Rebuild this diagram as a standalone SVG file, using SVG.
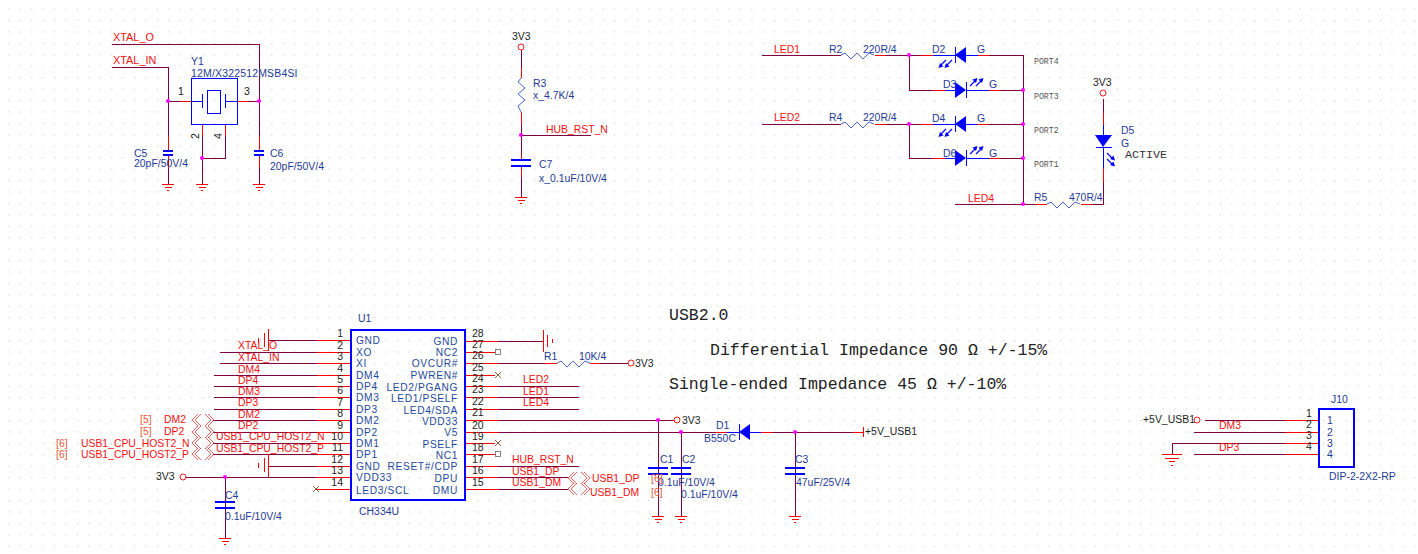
<svg xmlns="http://www.w3.org/2000/svg" width="1418" height="554" viewBox="0 0 1418 554">
<style>
.w,.r,.b{fill:none;stroke-width:1;shape-rendering:crispEdges}
.w{stroke:#800040}.r{stroke:#f00}.b{stroke:#00f}
.bt{fill:none;stroke:#00f;stroke-width:1.2;shape-rendering:crispEdges}
.z{fill:none;stroke:#1a3cc0;stroke-width:.8}
.j{fill:#f0f}
.o{fill:#fff;stroke:#e00;stroke-width:.9}
.x{stroke:#6a3a10;stroke-width:.8;fill:none}
.nc{fill:#fff;stroke:#777;stroke-width:.9}
.ch{fill:none;stroke:#e82020;stroke-width:.7}
.df{fill:#00f;stroke:none}
text{font-family:"Liberation Sans",Arial,sans-serif;font-size:10.45px;fill:#1f3a96}
.n{fill:#f41010;font-size:10.4px}
.nw{font-size:10.9px}
.k{fill:#222}
.p{fill:#e85a3c;font-size:10.4px}
.num{fill:#222;font-size:10.5px}
.pn{font-size:10.2px;letter-spacing:.65px;fill:#1f4a9c}
.e{text-anchor:end}
.m{font-family:"Liberation Mono","Courier New",monospace;fill:#333}
.pt{font-size:8.2px;fill:#555}
.note{font-size:16.55px;fill:#222}
</style>
<defs>
<pattern id="grid" width="11.43" height="11.43" patternUnits="userSpaceOnUse" x="8.4" y="8.5"><circle cx=".6" cy=".6" r=".55" fill="#bdbdbd"/></pattern>
<g id="gnd" class="r"><path d="M-6 0H6M-3.5 3H3.5M-1 6H1"/></g>
<g id="gndb" class="r"><path d="M-10 0H10M-7 4H7M-3 7H3M-1 11H1"/></g>
<polyline id="res" class="z" points="0,0 4,-2 10,4 16,-2 22,4 28,-2 33,0"/>
<g id="chev" class="ch"><path d="M6-6L0 0L6 6M9-6L3 0L9 6M16-6L22 0L16 6M13-6L19 0L13 6"/></g>
<g id="ledarr"><path d="M0 8L5 3M6 8L11 3" fill="none" stroke="#00f" stroke-width="1.2"/><path class="df" d="M7.500 0L2.500 1.500L6 5ZM13.500 0L8.500 1.500L12 5Z"/></g>
<path id="xm" class="x" d="M-3-3L3 3M-3 3L3-3"/>
</defs>
<rect width="1418" height="554" fill="#fff"/>
<rect width="1418" height="554" fill="url(#grid)"/>

<g id="connectors">
<path class="w" d="M112 44H259V136M259 155V184M112 67H168V136M168 155V184M168 101H180M248 101H259M202 136V184M225 136V158H202M521 50V68M521 125V155M521 135H591M521 178V197"/>
<path class="r" d="M180 101H191M237 101H248M202 124V136M225 124V136M168 136V151M168 155V168M259 136V151M259 155V168M521 68V78M521 112V125M521 155V160M521 166V178"/>
<path class="w" d="M762 55H841M886 55H921M909 55V90H933M978 55H1023M978 90H1023M762 124H841M886 124H921M909 124V158H933M988 124H1023M1000 158H1023M1023 55V204M955 204H1035M1091 204H1103V182M1103 113V99"/>
<path class="r" d="M875 55H886M921 55H933M933 90H945M989 90H1000M875 124H886M921 124H933M933 158H945M977 124H988M989 158H1000M978 55H989M1035 204H1041M1081 204H1091M1103 182V168M1103 125V113"/>
<path class="r" d="M317 340H351M317 352H351M317 363H351M317 375H351M317 386H351M317 397H351M317 409H351M317 420H351M317 432H351M317 443H351M317 454H351M317 466H351M317 477H351M317 489H351M465 341H498M465 352H495M465 363H498M465 375H495M465 386H498M465 397H498M465 409H498M465 420H498M465 432H498M465 443H495M465 454H495M465 466H498M465 477H498M465 489H498M545 363H557M590 363H600M673 420H675M716 432H727M761 432H772M853 432H863M1286 420H1319M1286 432H1319M1286 443H1319M1286 454H1319"/>
<path class="w" d="M268 340H317M220 352H317M220 363H317M214 375H317M214 386H317M214 397H317M214 409H317M213 420H317M213 432H317M213 443H317M213 454H317M268 466H317M186 477H317M316 489H317"/>
<path class="w" d="M498 341H543M498 363H545M600 363H628M498 386H579M498 397H579M498 409H579M498 420H673M498 432H716M772 432H853M498 466H579M498 477H568M498 489H568M658 420V516M681 432V516M795 432V516M225 477V538M1205 420H1286M1194 432H1286M1172 443H1286M1172 443V454M1194 454H1286"/>
</g>

<g id="grounds">
<use href="#gnd" x="168" y="184"/><use href="#gnd" x="202" y="184"/><use href="#gnd" x="259" y="184"/><use href="#gnd" x="521" y="197"/><use href="#gnd" x="225" y="538"/><use href="#gnd" x="658" y="516"/><use href="#gnd" x="681" y="516"/><use href="#gnd" x="795" y="516"/><use href="#gndb" x="1172" y="454"/>
<path class="r" d="M543 330V352M547 335V347M552 339V343M268 329V351M264 333V347M258 338V343M268 454V477M264 458V472M258 463V468"/>
</g>

<g id="junctions">
<circle class="j" cx="168" cy="101" r="2"/><circle class="j" cx="259" cy="101" r="2"/><circle class="j" cx="202" cy="158" r="2"/><circle class="j" cx="521" cy="135" r="2"/><circle class="j" cx="909" cy="55" r="2"/><circle class="j" cx="909" cy="124" r="2"/><circle class="j" cx="1023" cy="90" r="2"/><circle class="j" cx="1023" cy="124" r="2"/><circle class="j" cx="1023" cy="158" r="2"/><circle class="j" cx="1023" cy="204" r="2"/><circle class="j" cx="658" cy="420" r="2"/><circle class="j" cx="681" cy="432" r="2"/><circle class="j" cx="795" cy="432" r="2"/><circle class="j" cx="225" cy="477" r="2"/>
</g>

<g id="Y1">
<path class="b" d="M191 78H237V124H191ZM191 101H202M202 94V108M225 94V108M225 101H237M207 90H220V113H207Z"/>
<text x="191" y="65">Y1</text><text x="191" y="77" style="letter-spacing:.2px">12M/X322512MSB4SI</text>
<text class="num" x="178" y="95">1</text><text class="num" x="244" y="95">3</text>
<text class="num" transform="translate(199,139) rotate(-90)">2</text><text class="num" transform="translate(222,139) rotate(-90)">4</text>
</g>
<g id="C5"><path class="bt" d="M163 151H173M163 155H173"/><text x="134" y="157">C5</text><text x="134" y="167">20pF/50V/4</text></g>
<g id="C6"><path class="bt" d="M254 151H264M254 155H264"/><text x="270" y="157">C6</text><text x="270" y="170">20pF/50V/4</text></g>
<g id="nets-xtal"><text class="n nw" x="113" y="41">XTAL_O</text><text class="n nw" x="113" y="64">XTAL_IN</text></g>

<g id="R3-C7">
<circle class="o" cx="521" cy="47" r="3"/><text class="k" x="512" y="40">3V3</text>
<polyline class="z" points="521,78 518,82 525,88 518,94 525,100 518,106 521,112"/>
<text x="533" y="87">R3</text><text x="533" y="99">x_4.7K/4</text>
<text class="n" x="546" y="133">HUB_RST_N</text>
<path class="bt" d="M511 160H531M511 166H531"/>
<text x="539" y="168">C7</text><text x="539" y="182">x_0.1uF/10V/4</text>
</g>

<g id="R2"><use href="#res" x="841" y="55"/><text x="829" y="53">R2</text><text x="863" y="53">220R/4</text><text class="n" x="774" y="53">LED1</text></g>
<g id="R4"><use href="#res" x="841" y="124"/><text x="829" y="121">R4</text><text x="863" y="121">220R/4</text><text class="n" x="774" y="121">LED2</text></g>
<g id="D2"><path class="b" d="M933 55H955M966 55H978M955 47V63"/><path class="df" d="M955 55L966 47V63Z"/><use href="#ledarr" transform="translate(952,68) rotate(180)"/><text x="932" y="53">D2</text><text x="977" y="53">G</text></g>
<g id="D3"><path class="b" d="M945 90H955M966 90H989M966 82V98"/><path class="df" d="M966 90L955 82V98Z"/><use href="#ledarr" transform="translate(970,78)"/><text x="943" y="88">D3</text><text x="989" y="88">G</text></g>
<g id="D4"><path class="b" d="M933 124H955M966 124H977M955 116V132"/><path class="df" d="M955 124L966 116V132Z"/><use href="#ledarr" transform="translate(952,137) rotate(180)"/><text x="932" y="122">D4</text><text x="977" y="122">G</text></g>
<g id="D6"><path class="b" d="M945 158H955M966 158H989M966 150V166"/><path class="df" d="M966 158L955 150V166Z"/><use href="#ledarr" transform="translate(970,146)"/><text x="943" y="157">D6</text><text x="989" y="157">G</text></g>
<g id="ports"><text class="m pt" x="1034" y="64">PORT4</text><text class="m pt" x="1034" y="99">PORT3</text><text class="m pt" x="1034" y="133">PORT2</text><text class="m pt" x="1034" y="167">PORT1</text></g>
<g id="R5"><use href="#res" x="1047" y="204"/><path class="r" d="M1041 204H1047"/><text x="1034" y="201">R5</text><text x="1069" y="201">470R/4</text><text class="n" x="968" y="202">LED4</text></g>
<g id="D5"><circle class="o" cx="1103" cy="93" r="3"/><text class="k" x="1093" y="86">3V3</text>
<path class="b" d="M1103 125V135M1103 147V168M1096 147H1112"/><path class="df" d="M1095 135H1112L1103 147Z"/><use href="#ledarr" transform="translate(1115,153) rotate(90)"/>
<text x="1121" y="134">D5</text><text x="1121" y="147">G</text><text class="m" style="font-size:11.7px" x="1125" y="158">ACTIVE</text></g>

<g id="U1">
<rect x="351" y="330" width="114" height="170" fill="none" stroke="#00f" stroke-width="1.2" shape-rendering="crispEdges"/>
<text x="358" y="322">U1</text><text x="359" y="515">CH334U</text>
<g class="nums">
<text class="num e" x="343" y="337">1</text><text class="num e" x="343" y="349">2</text><text class="num e" x="343" y="360">3</text><text class="num e" x="343" y="372">4</text><text class="num e" x="343" y="383">5</text><text class="num e" x="343" y="394">6</text><text class="num e" x="343" y="406">7</text><text class="num e" x="343" y="417">8</text><text class="num e" x="343" y="429">9</text><text class="num e" x="343" y="440">10</text><text class="num e" x="343" y="451">11</text><text class="num e" x="343" y="463">12</text><text class="num e" x="343" y="474">13</text><text class="num e" x="343" y="486">14</text>
<text class="num" x="472" y="337">28</text><text class="num" x="472" y="348">27</text><text class="num" x="472" y="359">26</text><text class="num" x="472" y="371">25</text><text class="num" x="472" y="382">24</text><text class="num" x="472" y="393">23</text><text class="num" x="472" y="405">22</text><text class="num" x="472" y="416">21</text><text class="num" x="472" y="429">20</text><text class="num" x="472" y="440">19</text><text class="num" x="472" y="451">18</text><text class="num" x="472" y="463">17</text><text class="num" x="472" y="474">16</text><text class="num" x="472" y="486">15</text>
</g>
<g class="names">
<text class="pn" x="356" y="344">GND</text><text class="pn" x="356" y="356">XO</text><text class="pn" x="356" y="367">XI</text><text class="pn" x="356" y="379">DM4</text><text class="pn" x="356" y="390">DP4</text><text class="pn" x="356" y="401">DM3</text><text class="pn" x="356" y="413">DP3</text><text class="pn" x="356" y="424">DM2</text><text class="pn" x="356" y="436">DP2</text><text class="pn" x="356" y="447">DM1</text><text class="pn" x="356" y="458">DP1</text><text class="pn" x="356" y="470">GND</text><text class="pn" x="356" y="481">VDD33</text><text class="pn" x="356" y="494">LED3/SCL</text>
<text class="pn e" x="458" y="345">GND</text><text class="pn e" x="458" y="356">NC2</text><text class="pn e" x="458" y="367">OVCUR#</text><text class="pn e" x="458" y="379">PWREN#</text><text class="pn e" x="458" y="391">LED2/PGANG</text><text class="pn e" x="458" y="402">LED1/PSELF</text><text class="pn e" x="458" y="414">LED4/SDA</text><text class="pn e" x="458" y="425">VDD33</text><text class="pn e" x="458" y="436">V5</text><text class="pn e" x="458" y="448">PSELF</text><text class="pn e" x="458" y="459">NC1</text><text class="pn e" x="458" y="470">RESET#/CDP</text><text class="pn e" x="458" y="482">DPU</text><text class="pn e" x="458" y="494">DMU</text>
</g>
<rect class="nc" x="495.500" y="349.500" width="5" height="5"/><rect class="nc" x="495.500" y="451.500" width="5" height="5"/>
<use href="#xm" x="498" y="375"/><use href="#xm" x="498" y="443"/><use href="#xm" x="316" y="489"/>
</g>

<g id="nets-left">
<text class="n" x="238" y="349">XTAL_O</text><text class="n" x="238" y="361">XTAL_IN</text><text class="n" x="238" y="373">DM4</text><text class="n" x="238" y="384">DP4</text><text class="n" x="238" y="395">DM3</text><text class="n" x="238" y="406">DP3</text><text class="n" x="238" y="418">DM2</text><text class="n" x="238" y="429">DP2</text>
<text class="n" x="216" y="440">USB1_CPU_HOST2_N</text><text class="n" x="216" y="452">USB1_CPU_HOST2_P</text>
<use href="#chev" x="192" y="420"/><use href="#chev" x="192" y="432"/><use href="#chev" x="192" y="443"/><use href="#chev" x="192" y="454"/>
<text class="p" x="140" y="423">[5]</text><text class="n" x="164" y="423">DM2</text><text class="p" x="140" y="435">[5]</text><text class="n" x="164" y="435">DP2</text>
<text class="p" x="56" y="447">[6]</text><text class="n" x="81" y="447">USB1_CPU_HOST2_N</text><text class="p" x="56" y="458">[6]</text><text class="n" x="81" y="458">USB1_CPU_HOST2_P</text>
</g>
<g id="C4"><circle class="o" cx="183" cy="477" r="3"/><text class="k" x="156" y="480">3V3</text><path class="bt" d="M215 502H235M215 508H235"/><text x="225" y="499">C4</text><text x="225" y="520">0.1uF/10V/4</text></g>

<g id="nets-right">
<text class="n" x="523" y="383">LED2</text><text class="n" x="523" y="395">LED1</text><text class="n" x="523" y="406">LED4</text>
<text class="n" x="512" y="463">HUB_RST_N</text><text class="n" x="512" y="475">USB1_DP</text><text class="n" x="512" y="486">USB1_DM</text>
<use href="#chev" x="568" y="478"/><use href="#chev" x="568" y="489"/>
<text class="n" x="592" y="482">USB1_DP</text><text class="n" x="590" y="496">USB1_DM</text>
</g>
<g id="R1"><use href="#res" x="557" y="363"/><text x="544" y="360">R1</text><text x="579" y="360">10K/4</text><circle class="o" cx="631" cy="363" r="3"/><text class="k" x="635" y="367">3V3</text></g>
<g id="C1"><circle class="o" cx="677" cy="420" r="3"/><text class="k" x="682" y="424">3V3</text><path class="bt" d="M648 468H668M648 474H668"/><text x="660" y="463">C1</text><text x="658" y="486">0.1uF/10V/4</text><text class="p" x="651" y="482">[6]</text></g>
<g id="C2"><path class="bt" d="M671 468H691M671 474H691"/><text x="682" y="463">C2</text><text x="681" y="498">0.1uF/10V/4</text><text class="p" x="651" y="496">[6]</text></g>
<g id="D1"><path class="b" d="M727 432H739M750 432H761M739 424V440"/><path class="df" d="M739 432L750 424V440Z"/><text x="716" y="429">D1</text><text x="704" y="442">B550C</text></g>
<g id="C3"><path class="bt" d="M785 468H805M785 474H805"/><text x="795" y="463">C3</text><text x="796" y="486">47uF/25V/4</text></g>
<g id="VUSB"><path class="r" d="M863 427V437"/><text class="k" x="865" y="435">+5V_USB1</text></g>

<g id="notes">
<text class="m note" x="669" y="320">USB2.0</text>
<text class="m note" x="710" y="355">Differential Impedance 90 Ω +/-15%</text>
<text class="m note" x="669" y="389">Single-ended Impedance 45 Ω +/-10%</text>
</g>

<g id="J10">
<rect x="1319" y="409" width="35" height="58" fill="none" stroke="#00f" stroke-width="1.2" shape-rendering="crispEdges"/>
<circle class="o" cx="1197" cy="420" r="3"/><text class="k" x="1143" y="423">+5V_USB1</text>
<text class="n" x="1219" y="429">DM3</text><text class="n" x="1219" y="451">DP3</text>
<text class="num" x="1306" y="417">1</text><text class="num" x="1306" y="428">2</text><text class="num" x="1306" y="439">3</text><text class="num" x="1306" y="450">4</text>
<text x="1327" y="424">1</text><text x="1327" y="436">2</text><text x="1327" y="447">3</text><text x="1327" y="458">4</text>
<text x="1331" y="403">J10</text><text x="1329" y="480">DIP-2-2X2-RP</text>
</g>
</svg>
